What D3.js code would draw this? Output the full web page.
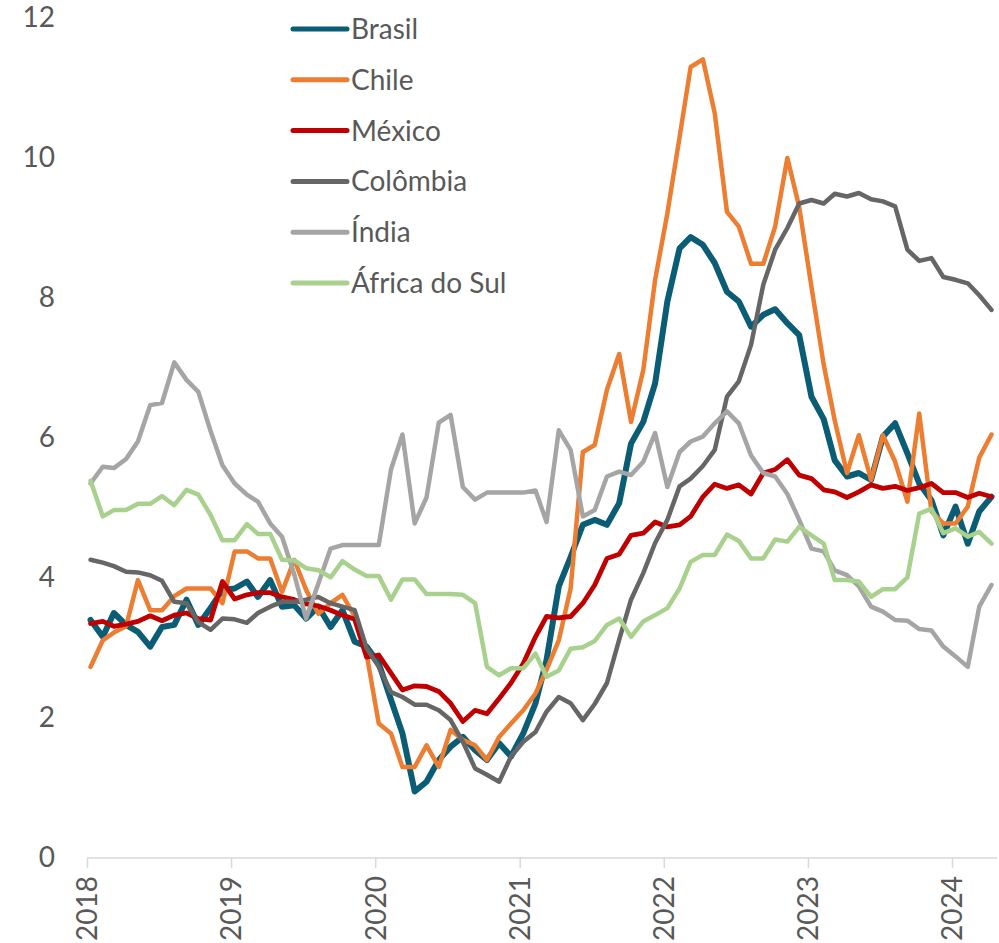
<!DOCTYPE html>
<html><head><meta charset="utf-8">
<script src="https://cdn.jsdelivr.net/npm/d3@7"></script>
<style>html,body{margin:0;padding:0;background:#fff;}svg{display:block;font-family:Lato,"Noto Sans",sans-serif;}</style>
</head><body>
<svg id="chart" width="999" height="943"></svg>
<script>
// Monthly data, Jan 2018 – Apr 2024
const startYear = 2018;
const yearTicks = ["2018","2019","2020","2021","2022","2023","2024"];
const yTicks = [0,2,4,6,8,10,12];
const seriesNames = ["Brasil","Chile","México","Colômbia","Índia","África do Sul"];
const seriesColors = ["#0a5d75","#ed7d31","#c00000","#666666","#a5a5a5","#a9d18e"];

const brasil = [3.40,3.16,3.50,3.33,3.23,3.02,3.30,3.33,3.69,3.33,
  3.57,3.83,3.85,3.95,3.73,3.97,3.59,3.61,3.42,3.59,
  3.30,3.54,3.09,3.02,2.78,2.26,1.78,0.95,1.09,1.40,
  1.59,1.73,1.54,1.40,1.64,1.45,1.78,2.21,2.83,3.88,
  4.30,4.76,4.83,4.76,5.07,5.92,6.23,6.78,7.95,8.71,
  8.87,8.76,8.50,8.09,7.95,7.59,7.76,7.84,7.64,7.47,
  6.59,6.27,5.68,5.45,5.50,5.40,6.02,6.21,5.78,5.35,
  5.11,4.61,5.02,4.49,4.95,5.16];
const chile = [2.73,3.11,3.22,3.31,3.97,3.54,3.54,3.74,3.85,3.85,
  3.85,3.64,4.38,4.38,4.28,4.28,3.80,4.26,3.83,3.49,
  3.64,3.76,3.45,2.92,1.92,1.78,1.30,1.30,1.61,1.30,
  1.83,1.69,1.61,1.40,1.73,1.92,2.11,2.35,2.69,3.11,
  3.85,5.80,5.90,6.69,7.20,6.23,6.97,8.26,9.21,10.30,
  11.30,11.41,10.64,9.23,9.02,8.49,8.49,9.02,10.00,9.30,
  8.16,7.05,6.25,5.50,6.04,5.40,6.04,5.66,5.09,6.35,
  4.95,4.78,4.78,5.02,5.72,6.05];
const mexico = [3.35,3.38,3.31,3.34,3.38,3.46,3.39,3.47,3.50,3.42,
  3.40,3.95,3.70,3.76,3.79,3.79,3.73,3.69,3.63,3.60,
  3.54,3.47,3.41,2.87,2.90,2.64,2.40,2.46,2.45,2.38,
  2.21,1.95,2.11,2.06,2.28,2.50,2.78,3.16,3.45,3.43,
  3.45,3.64,3.90,4.28,4.34,4.61,4.64,4.80,4.73,4.76,
  4.88,5.16,5.34,5.28,5.33,5.20,5.50,5.55,5.69,5.47,
  5.42,5.26,5.23,5.15,5.23,5.33,5.28,5.31,5.25,5.29,
  5.35,5.22,5.22,5.15,5.21,5.16];
const colombia = [4.26,4.22,4.17,4.09,4.08,4.04,3.96,3.66,3.64,3.37,
  3.26,3.42,3.41,3.36,3.50,3.59,3.66,3.66,3.69,3.73,
  3.64,3.59,3.54,3.00,2.73,2.37,2.30,2.19,2.19,2.11,
  1.97,1.66,1.28,1.19,1.09,1.45,1.66,1.80,2.09,2.30,
  2.21,1.97,2.20,2.50,3.12,3.69,4.07,4.50,4.83,5.31,
  5.42,5.60,5.83,6.59,6.81,7.33,8.19,8.69,9.00,9.35,
  9.40,9.35,9.49,9.45,9.50,9.41,9.38,9.31,8.69,8.53,
  8.57,8.30,8.26,8.21,8.04,7.83];
const india = [5.35,5.59,5.57,5.70,5.95,6.47,6.50,7.08,6.83,6.66,
  6.10,5.61,5.35,5.19,5.09,4.78,4.59,4.05,3.42,3.92,
  4.42,4.47,4.47,4.47,4.47,5.55,6.05,4.78,5.15,6.22,
  6.33,5.30,5.12,5.22,5.22,5.22,5.22,5.25,4.80,6.11,
  5.83,4.88,4.97,5.45,5.52,5.47,5.66,6.07,5.30,5.80,
  5.95,6.02,6.21,6.38,6.21,5.75,5.50,5.45,5.20,4.83,
  4.42,4.38,4.11,4.04,3.88,3.59,3.52,3.40,3.39,3.27,
  3.25,3.02,2.88,2.73,3.59,3.90];
const africaSul = [5.39,4.88,4.97,4.97,5.06,5.06,5.17,5.04,5.26,5.19,
  4.90,4.54,4.54,4.77,4.63,4.63,4.26,4.25,4.14,4.11,
  4.01,4.24,4.12,4.03,4.03,3.69,3.98,3.98,3.77,3.77,
  3.77,3.76,3.64,2.73,2.61,2.71,2.71,2.92,2.59,2.68,
  2.99,3.01,3.10,3.33,3.42,3.16,3.38,3.47,3.57,3.85,
  4.23,4.33,4.33,4.62,4.53,4.28,4.28,4.55,4.52,4.73,
  4.61,4.49,3.97,3.97,3.95,3.73,3.84,3.84,4.01,4.92,
  4.99,4.64,4.71,4.59,4.66,4.49];

const seriesValues = [brasil, chile, mexico, colombia, india, africaSul];
const seriesWidths = [6, 4.5, 4.8, 4.5, 4.5, 4.5];

const svg = d3.select("#chart");
const textColor = "#595959";

const x = d3.scaleTime()
  .domain([new Date(2018,0,1), new Date(2024,0,1)])
  .range([87, 952]);
const y = d3.scaleLinear().domain([0,12]).range([858, 18]);
const dateOf = i => new Date(startYear, i, 10);

// clip to plot area
svg.append("defs").append("clipPath").attr("id","plot")
  .append("rect").attr("x",85).attr("y",0).attr("width",913).attr("height",870);

// y axis labels (no axis line)
const yAxis = d3.axisLeft(y).tickValues(yTicks).tickSize(0).tickPadding(0).tickFormat(d3.format("d"));
const gy = svg.append("g").attr("transform","translate(55,0)").call(yAxis);
gy.select(".domain").remove();
gy.selectAll("text").attr("font-size",28).attr("fill",textColor).attr("font-family","Lato");

// x axis
const xTickDates = yearTicks.map(t => new Date(+t,0,1));
const xAxis = d3.axisBottom(x).tickValues(xTickDates).tickSize(10).tickFormat((d,i)=>yearTicks[i]);
const gx = svg.append("g").attr("transform","translate(0,858)").call(xAxis);
gx.select(".domain").attr("d","M87,0H997").attr("stroke","#d9d9d9").attr("stroke-width",1.5);
gx.selectAll(".tick line").attr("stroke","#d9d9d9").attr("stroke-width",1.5);
gx.selectAll(".tick text")
  .attr("font-size",28).attr("fill",textColor).attr("font-family","Lato")
  .attr("transform","rotate(-90)")
  .attr("text-anchor","end").attr("x",-18).attr("y",0).attr("dy","0.35em");

// lines
const line = d3.line().x((d,i)=>x(dateOf(i))).y(d=>y(d)).curve(d3.curveLinear);
const gl = svg.append("g").attr("clip-path","url(#plot)");
seriesValues.forEach((vals,k)=>{
  gl.append("path").datum(vals)
    .attr("d", line)
    .attr("fill","none")
    .attr("stroke", seriesColors[k])
    .attr("stroke-width", seriesWidths[k])
    .attr("stroke-linejoin","round")
    .attr("stroke-linecap","round");
});

// legend
const lg = svg.append("g");
seriesNames.forEach((name,k)=>{
  const cy = 29 + k*50.8;
  lg.append("line").attr("x1",293).attr("x2",347).attr("y1",cy).attr("y2",cy)
    .attr("stroke",seriesColors[k]).attr("stroke-width",5).attr("stroke-linecap","round");
  lg.append("text").attr("x",351).attr("y",cy).attr("dy","0.36em")
    .attr("font-size",28).attr("fill",textColor).attr("font-family","Lato").text(name);
});
</script>
</body></html>
